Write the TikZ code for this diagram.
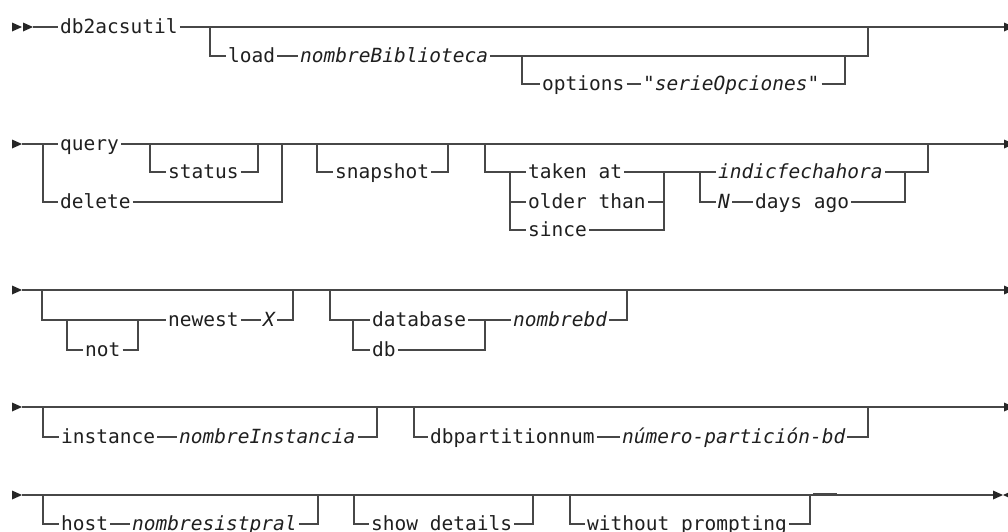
\documentclass[tikz,border=0pt]{standalone}
\usepackage{fontspec}
\newfontfamily\rrfont{DejaVu Sans Mono}
\begin{document}
\begin{tikzpicture}[x=1pt,y=-1pt,
  kw/.style={anchor=west, inner xsep=2pt, inner ysep=0pt, text height=14pt, text depth=2pt,
    font=\rrfont\fontsize{19.5}{20}\selectfont, text=black!88},
  var/.style={kw, font=\rrfont\itshape\fontsize{19.5}{20}\selectfont},
  rail/.style={draw=black!72, line width=1.25pt, line join=miter},
  tip/.style={fill=black!85}]
\useasboundingbox (0,0) rectangle (1008,531);

% ---------------- Row 1 ----------------
\fill[tip] (12,22.5)--(22,27)--(12,31.5)--cycle;
\fill[tip] (23,22.5)--(33,27)--(23,31.5)--cycle;
\coordinate (a0) at (33,27);
\coordinate (aE) at (1004,27);
\node[kw] (cmd) at (58,27) {db2acsutil};
\draw[rail] (a0) -- (cmd.west);
\draw[rail] (cmd.east) -- (aE);
\fill[tip] (1004,22.5)--(1014,27)--(1004,31.5)--cycle;
\node[kw] (load) at (226,56) {load};
\node[var] (lib) at (298,56) {nombreBiblioteca};
\coordinate (a1) at (210,27);
\coordinate (a2) at (868,27);
\draw[rail] (a1) |- (load.west);
\draw[rail] (load.east) -- (lib.west);
\draw[rail] (lib.east) -| (a2);
\node[kw] (opt) at (540,84) {options};
\node[var] (ser) at (641,84) {"serieOpciones"};
\coordinate (a3) at (522,56);
\coordinate (a4) at (845,56);
\draw[rail] (a3) |- (opt.west);
\draw[rail] (opt.east) -- (ser.west);
\draw[rail] (ser.east) -| (a4);

% ---------------- Row 2 ----------------
\fill[tip] (12,139.5)--(22,144)--(12,148.5)--cycle;
\coordinate (b0) at (22,144);
\coordinate (b1) at (43,144);
\coordinate (bE) at (1004,144);
\node[kw] (query) at (58,144) {query};
\node[kw] (delete) at (58,202) {delete};
\draw[rail] (b0) -- (query.west);
\draw[rail] (b1) |- (delete.west);
\draw[rail] (query.east) -- (bE);
\fill[tip] (1004,139.5)--(1014,144)--(1004,148.5)--cycle;
\node[kw] (status) at (166,172) {status};
\coordinate (b2) at (150,144);
\coordinate (b3) at (258,144);
\draw[rail] (b2) |- (status.west);
\draw[rail] (status.east) -| (b3);
\coordinate (b4) at (282,144);
\draw[rail] (delete.east) -| (b4);
\node[kw] (snap) at (333,172) {snapshot};
\coordinate (b5) at (317,144);
\coordinate (b6) at (448,144);
\draw[rail] (b5) |- (snap.west);
\draw[rail] (snap.east) -| (b6);
\node[kw] (taken) at (526,172) {taken at};
\node[kw] (older) at (526,202) {older than};
\node[kw] (since) at (526,230) {since};
\coordinate (b7) at (485,144);
\coordinate (b8) at (510,172);
\coordinate (b9) at (664,172);
\draw[rail] (b7) |- (b8) -- (taken.west);
\draw[rail] (b8) |- (since.west);
\draw[rail] (b8 |- older.west) -- (older.west);
\draw[rail] (taken.east) -- (b9);
\draw[rail] (older.east) -- (older.east -| b9);
\draw[rail] (since.east) -| (b9);
\node[var] (indic) at (716,172) {indicfechahora};
\node[var] (N) at (716,202) {N};
\node[kw] (days) at (753,202) {days ago};
\coordinate (b10) at (700,172);
\coordinate (b11) at (905,172);
\coordinate (b12) at (928,144);
\draw[rail] (b9) -- (indic.west);
\draw[rail] (b10) |- (N.west);
\draw[rail] (N.east) -- (days.west);
\draw[rail] (indic.east) -- (b11);
\draw[rail] (days.east) -| (b11);
\draw[rail] (b11) -| (b12);

% ---------------- Row 3 ----------------
\fill[tip] (12,285.5)--(22,290)--(12,294.5)--cycle;
\coordinate (c0) at (22,290);
\coordinate (cE) at (1004,290);
\draw[rail] (c0) -- (cE);
\fill[tip] (1004,285.5)--(1014,290)--(1004,294.5)--cycle;
\node[kw] (newest) at (166,320) {newest};
\node[kw] (not) at (83,350) {not};
\node[var] (X) at (261,320) {X};
\coordinate (c1) at (42,290);
\coordinate (c2) at (67,320);
\coordinate (c3) at (138,320);
\coordinate (c4) at (293,290);
\draw[rail] (c1) |- (c2) -- (newest.west);
\draw[rail] (c2) |- (not.west);
\draw[rail] (not.east) -| (c3);
\draw[rail] (newest.east) -- (X.west);
\draw[rail] (X.east) -| (c4);
\node[kw] (database) at (370,320) {database};
\node[kw] (db) at (370,350) {db};
\node[var] (nbd) at (511,320) {nombrebd};
\coordinate (c5) at (330,290);
\coordinate (c6) at (353,320);
\coordinate (c7) at (485,320);
\coordinate (c8) at (627,290);
\draw[rail] (c5) |- (c6) -- (database.west);
\draw[rail] (c6) |- (db.west);
\draw[rail] (database.east) -- (c7);
\draw[rail] (db.east) -| (c7);
\draw[rail] (c7) -- (nbd.west);
\draw[rail] (nbd.east) -| (c8);

% ---------------- Row 4 ----------------
\fill[tip] (12,402.5)--(22,407)--(12,411.5)--cycle;
\coordinate (d0) at (22,407);
\coordinate (dE) at (1004,407);
\draw[rail] (d0) -- (dE);
\fill[tip] (1004,402.5)--(1014,407)--(1004,411.5)--cycle;
\node[kw] (inst) at (59,437) {instance};
\node[var] (ninst) at (177,437) {nombreInstancia};
\coordinate (d1) at (43,407);
\coordinate (d2) at (377,407);
\draw[rail] (d1) |- (inst.west);
\draw[rail] (inst.east) -- (ninst.west);
\draw[rail] (ninst.east) -| (d2);
\node[kw] (dbp) at (428,437) {dbpartitionnum};
\node[var] (num) at (620,437) {número-partición-bd};
\coordinate (d3) at (414,407);
\coordinate (d4) at (868,407);
\draw[rail] (d3) |- (dbp.west);
\draw[rail] (dbp.east) -- (num.west);
\draw[rail] (num.east) -| (d4);

% ---------------- Row 5 ----------------
\fill[tip] (12,490.5)--(22,495)--(12,499.5)--cycle;
\coordinate (e0) at (22,495);
\coordinate (eE) at (993,495);
\draw[rail] (e0) -- (eE);
\fill[tip] (993,490.5)--(1003,495)--(993,499.5)--cycle;
\fill[tip] (1013,490.5)--(1003,495)--(1013,499.5)--cycle;
\draw[draw=black!72, line width=1.3pt] (813,493.5) -- (837,493.5);
\node[kw] (host) at (59,524) {host};
\node[var] (nsist) at (130,524) {nombresistpral};
\coordinate (e1) at (43,495);
\coordinate (e2) at (318,495);
\draw[rail] (e1) |- (host.west);
\draw[rail] (host.east) -- (nsist.west);
\draw[rail] (nsist.east) -| (e2);
\node[kw] (show) at (369,524) {show details};
\coordinate (e3) at (354,495);
\coordinate (e4) at (533,495);
\draw[rail] (e3) |- (show.west);
\draw[rail] (show.east) -| (e4);
\node[kw] (without) at (585,524) {without prompting};
\coordinate (e5) at (570,495);
\coordinate (e6) at (810,495);
\draw[rail] (e5) |- (without.west);
\draw[rail] (without.east) -| (e6);
\end{tikzpicture}
\end{document}
